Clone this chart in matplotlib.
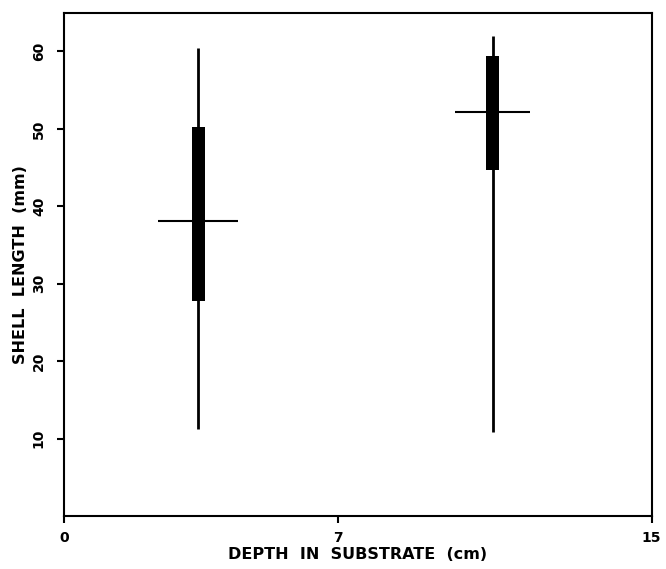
import numpy as np
import matplotlib
matplotlib.use("Agg")
import matplotlib.pyplot as plt

# range / s.d. / mean per depth class
depth = [3.43, 10.94]
len_min = [11.3, 10.9]
len_max = [60.4, 62.0]
sd_low = [27.8, 44.7]
sd_high = [50.3, 59.4]
len_mean = [38.1, 52.2]
mean_half = [1.02, 0.95]

fig = plt.figure(figsize=(6.66, 5.69), dpi=100)
ax = fig.add_axes([0.096, 0.093, 0.8825, 0.8847])

# range lines
ax.vlines(depth, len_min, len_max, color='black', lw=2)
# thick bars
ax.bar(depth, np.array(sd_high) - np.array(sd_low), bottom=sd_low,
       width=0.34, color='black')
# mean lines
ax.hlines(len_mean, np.array(depth) - np.array(mean_half),
          np.array(depth) + np.array(mean_half), color='black', lw=1.5)

ax.set_xlim(0, 15)
ax.set_ylim(0, 65)
ax.set_xticks([0, 7, 15])
ax.set_xticklabels(['0', '7', '15'], fontweight='bold', fontsize=10)
ax.set_yticks([10, 20, 30, 40, 50, 60])
ax.set_yticklabels(['10', '20', '30', '40', '50', '60'], rotation=90,
                   va='center', fontweight='bold', fontsize=10)
ax.tick_params(direction='out', length=5, width=1.5)
ax.tick_params(axis='y', pad=8)
ax.tick_params(axis='x', pad=6)

for s in ax.spines.values():
    s.set_linewidth(1.5)

ax.set_xlabel('DEPTH  IN  SUBSTRATE  (cm)', fontweight='bold', fontsize=11.5,
              labelpad=1)
ax.set_ylabel('SHELL  LENGTH  (mm)', fontweight='bold', fontsize=11.5,
              labelpad=3)

fig.savefig('out.png', dpi=100)
